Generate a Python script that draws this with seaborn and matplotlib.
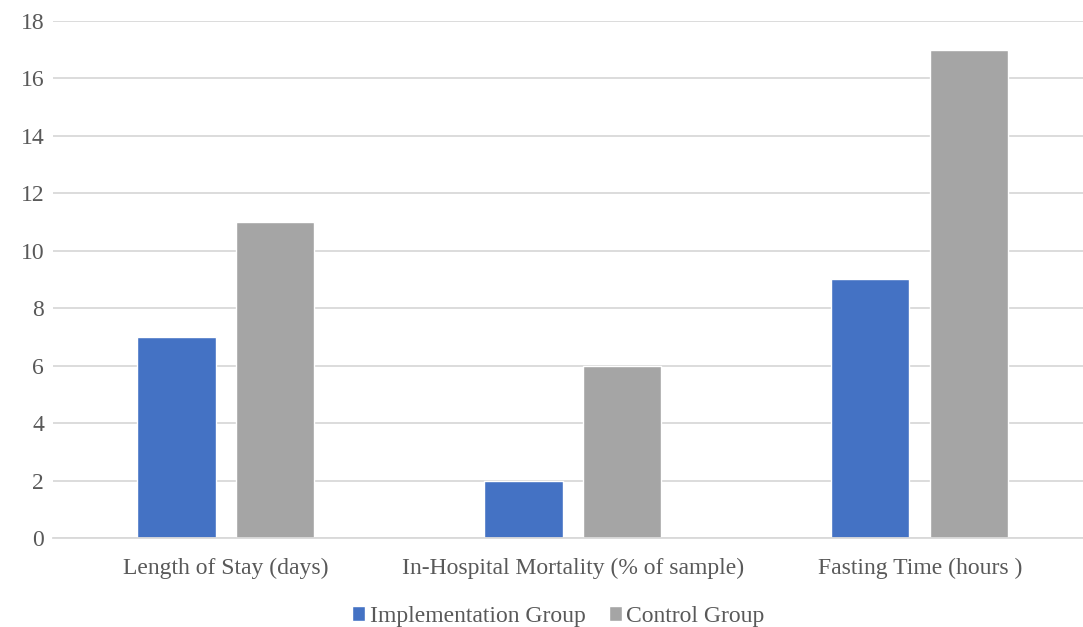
import matplotlib
matplotlib.use("Agg")
import matplotlib.pyplot as plt
import seaborn as sns
import pandas as pd

categories = ["Length of Stay (days)", "In-Hospital Mortality (% of sample)", "Fasting Time (hours )"]
implementation = [7, 2, 9]
control = [11, 6, 17]
groups = ["Implementation Group", "Control Group"]
colors = ["#4472C4", "#A5A5A5"]

df = pd.DataFrame({
    "cat": categories * 2,
    "val": implementation + control,
    "grp": [groups[0]] * 3 + [groups[1]] * 3,
})

sns.set_style("white")
plt.rcParams["font.family"] = ["Liberation Serif", "DejaVu Serif"]

fig = plt.figure(figsize=(10.83, 6.27), dpi=100)
ax = fig.add_axes([0.0485, 0.142, 0.961, 0.8245])

sns.barplot(data=df, x="cat", y="val", hue="grp", palette=colors,
            width=0.57, gap=0.21, ax=ax, saturation=1, legend=True)

ax.set_ylim(0, 18)
ax.set_xlim(-0.5, 2.5)
ax.set_yticks(range(0, 19, 2))
ax.yaxis.grid(True, color="#D9D9D9", linewidth=1.3)
ax.set_axisbelow(True)
for s in ["top", "right", "left"]:
    ax.spines[s].set_visible(False)
ax.spines["bottom"].set_color("#D9D9D9")
ax.spines["bottom"].set_linewidth(1.3)
ax.tick_params(axis="both", length=0, colors="#595959", labelsize=17)
ax.tick_params(axis="y", pad=6)
ax.tick_params(axis="x", pad=14)
ax.set_xlabel("")
ax.set_ylabel("")

ax.legend(loc="upper center", bbox_to_anchor=(0.486, -0.09), ncol=2, frameon=False,
          fontsize=17, handlelength=0.55, handleheight=0.55, handletextpad=0.2,
          columnspacing=0.97, labelcolor="#595959")

fig.savefig("out.png", dpi=100)
